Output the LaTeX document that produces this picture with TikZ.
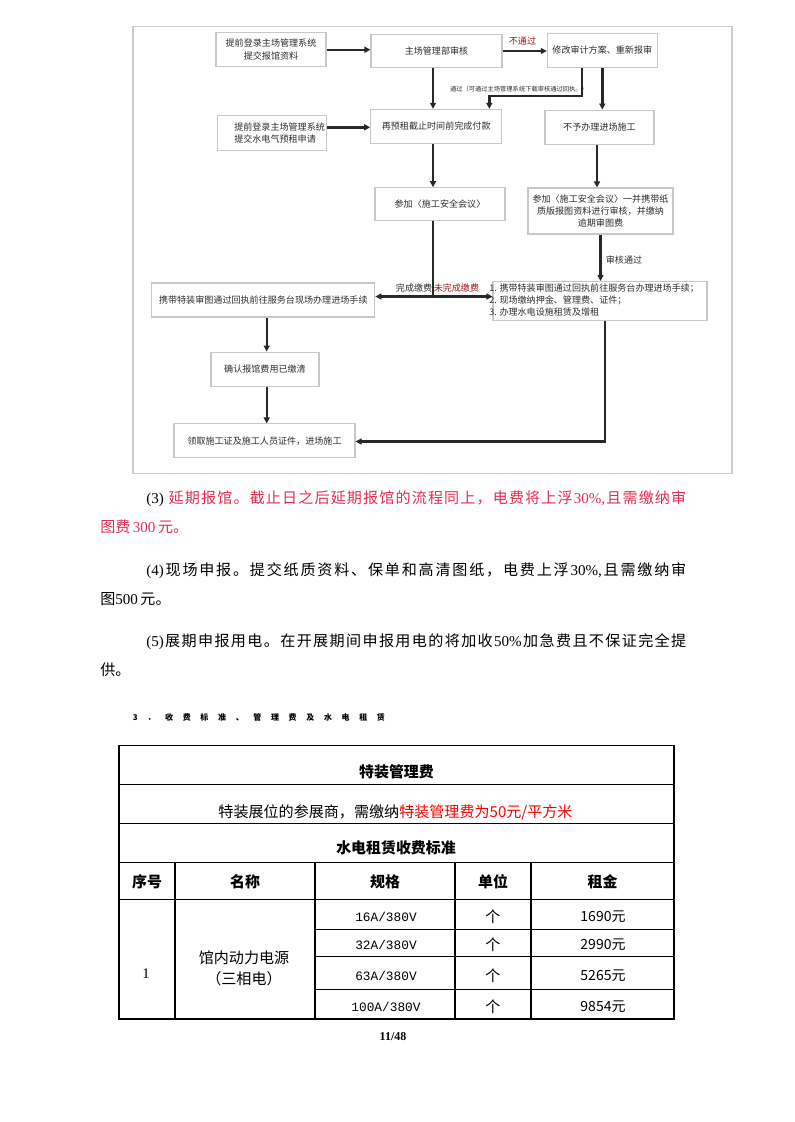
\documentclass[tikz,border=0pt]{standalone}
\usepackage{fontspec}
\setmainfont{Liberation Serif}
\newfontfamily\cjk{Noto Sans CJK SC}
\newfontfamily\lat{Liberation Serif}
\newfontfamily\mono{Liberation Mono}
\usetikzlibrary{arrows.meta}
\makeatletter
\newcommand\spreadline[1]{\@tfor\sp@t:=#1\do{{\sp@t}\hskip 0pt plus 1fil}\unskip}
\makeatother
\definecolor{boxgray}{RGB}{200,200,200}
\definecolor{framegray}{RGB}{205,205,205}
\definecolor{arrowc}{RGB}{40,40,40}
\definecolor{txtc}{RGB}{45,45,45}
\definecolor{darkred}{RGB}{160,20,30}
\definecolor{pinkred}{RGB}{230,45,80}
\begin{document}
\begin{tikzpicture}[x=0.75pt,y=-0.75pt,
  fb/.style n args={2}{draw=boxgray, line width=0.8pt, fill=white, inner sep=0pt,
    minimum width=#1*0.75pt, minimum height=#2*0.75pt, align=center, text=txtc,
    font=\cjk\fontsize{6.8}{9.3}\selectfont},
  ftxt/.style={inner sep=0pt, text=txtc, font=\cjk\fontsize{6.8}{9.3}\selectfont},
  arr/.style={draw=arrowc, line width=1.8pt, -{Triangle[length=4.5pt,width=4.5pt]}},
  ln/.style={draw=arrowc, line width=1.8pt},
  tbl/.style={draw=black, line width=0.9pt},
  body/.style={inner sep=0pt, anchor=west, font=\cjk\fontsize{11.3}{14}\selectfont},
  cell/.style={inner sep=0pt, font=\cjk\fontsize{11.3}{15.75}\selectfont},
  hcell/.style={inner sep=0pt, font=\cjk\bfseries\fontsize{11.2}{14}\selectfont},
  spec/.style={inner sep=0pt, font=\mono\fontsize{9.6}{11}\selectfont},
]
\path[use as bounding box] (0,0) rectangle (794,1122);

% ---------- flowchart frame ----------
\draw[framegray, line width=0.9pt] (133,26.7) rectangle (732,473.3);

% ---------- boxes ----------
\node[fb={110}{34}] (A) at (271,49.7) {提前登录主场管理系统\\提交报馆资料};
\node[fb={131}{33.4}] (B) at (436.5,51) {主场管理部审核};
\node[fb={110}{34.4}] (C) at (602.3,50.5) {修改审计方案、重新报审};
\node[fb={109.4}{35.3}] (D) at (272,133.3) {};
\node[ftxt, anchor=west, align=left] (Dt) at (234,133.3) {提前登录主场管理系统\\提交水电气预租申请};
\node[fb={131}{34}] (E) at (436.2,126.3) {再预租截止时间前完成付款};
\node[fb={109}{34.3}] (F) at (599.5,127.2) {不予办理进场施工};
\node[fb={130}{33.3}] (G) at (440,204.3) {参加〈施工安全会议〉};
\node[fb={145}{46}] (H) at (600.5,211) {参加〈施工安全会议〉一并携带纸\\质版报图资料进行审核，并缴纳\\逾期审图费};
\node[fb={223}{34}] (I) at (263.3,300) {携带特装审图通过回执前往服务台现场办理进场手续};
\node[fb={214}{38.5}] (J) at (600,300.8) {};
\node[ftxt, anchor=west, align=left] (Jt) at (489,300) {1. 携带特装审图通过回执前往服务台办理进场手续；\\2. 现场缴纳押金、管理费、证件；\\3. 办理水电设施租赁及增租};
\node[fb={108}{34.7}] (K) at (265,369.4) {确认报馆费用已缴清};
\node[fb={181}{33.7}] (L) at (264.5,440.8) {领取施工证及施工人员证件，进场施工};

% ---------- helper coordinates ----------
\coordinate (colx) at (433,0);
\coordinate (ce1) at (582,96);
\coordinate (ce2) at (489.3,96);
\coordinate (de) at (0,127.3);
\coordinate (fx) at (597,0);
\coordinate (jn) at (433,296.5);
\coordinate (ikx) at (266.7,0);
\coordinate (jl) at (605,441.5);

% ---------- connectors ----------
\draw[arr] (A.east) -- (A.east -| B.west);
\draw[arr] (B.east) -- (B.east -| C.west);
\node[ftxt, text=darkred] (lbl1) at (522.5,41.5) {不通过};
\draw[arr] (B.south -| colx) -- (E.north -| colx);
\draw[arr] (C.south -| ce1) -- (ce1) -- (ce2) -- (ce2 |- E.north);
\node[ftxt, font=\cjk\fontsize{4.7}{5}\selectfont] (lbl2) at (519,89) {通过（可通过主场管理系统下载审核通过回执。）};
\draw[arr] (C.south) -- (C.south |- F.north);
\draw[arr] (D.east |- de) -- (E.west |- de);
\draw[arr] (E.south -| colx) -- (G.north -| colx);
\draw[arr] (F.south -| fx) -- (H.north -| fx);
\draw[arr] (H.south) -- (H.south |- J.north);
\node[ftxt] (lbl3) at (624,260) {审核通过};
\draw[ln] (G.south -| jn) -- (jn);
\draw[arr] (jn) -- (jn -| I.east);
\draw[arr] (jn) -- (jn -| J.west);
\node[ftxt, anchor=east] (lbl4) at (432.5,288) {完成缴费};
\node[ftxt, anchor=west, text=darkred] (lbl5) at (433.5,288) {未完成缴费};
\draw[arr] (I.south -| ikx) -- (K.north -| ikx);
\draw[arr] (K.south -| ikx) -- (L.north -| ikx);
\draw[arr] (J.south -| jl) -- (jl) -- (L.east |- jl);

% ---------- body text ----------
\node[body] (p1) at (146,499) {\makebox[405pt][s]{{\lat (3)\ }\hskip 0pt plus 1fil{\color{pinkred}\spreadline{延期报馆。截止日之后延期报馆的流程同上，电费将上浮{\lat 30\%,}且需缴纳审}}}};
\node[body, text=pinkred] (p2) at (100,526.7) {图费\,{\lat 300}\,元。};
\node[body] (p3) at (146,571) {\makebox[405pt][s]{\spreadline{{\lat (4)}现场申报。提交纸质资料、保单和高清图纸，电费上浮{\lat 30\%,}且需缴纳审}}};
\node[body] (p4) at (100,599) {图{\lat 500}\,元。};
\node[body] (p5) at (146,642) {\makebox[405pt][s]{\spreadline{{\lat (5)}展期申报用电。在开展期间申报用电的将加收{\lat 50\%}加急费且不保证完全提}}};
\node[body] (p6) at (100,670) {供。};

% ---------- section heading ----------
\node[inner sep=0pt, anchor=west] (hd) at (132.7,717.3) {\makebox[189pt][s]{\cjk\bfseries\fontsize{6}{7}\selectfont\spreadline{3．收费标准、管理费及水电租赁}}};

% ---------- table ----------
\draw[tbl] (119,745.7) rectangle (674,1019);
\draw[tbl] (119,784.7) -- (674,784.7);
\draw[tbl] (119,823.7) -- (674,823.7);
\draw[tbl] (119,862.7) -- (674,862.7);
\draw[tbl] (119,899.3) -- (674,899.3);
\foreach \xx in {175,315,455,531} {\draw[tbl] (\xx,862.7) -- (\xx,1019);}
\foreach \yy in {929.3,956.7,989.3} {\draw[tbl] (315,\yy) -- (674,\yy);}

\node[hcell] (t1) at (396.5,771.7) {特装管理费};
\node[cell] (t2) at (395.5,812.7) {特装展位的参展商，需缴纳\textcolor{red}{特装管理费为50元/平方米}};
\node[hcell] (t3) at (396,848.3) {水电租赁收费标准};
\node[hcell] (h1) at (147,881.7) {序号};
\node[hcell] (h2) at (245,881.7) {名称};
\node[hcell] (h3) at (385,881.7) {规格};
\node[hcell] (h4) at (493,881.7) {单位};
\node[hcell] (h5) at (602.5,881.7) {租金};
\node[inner sep=0pt, font=\lat\fontsize{11}{13}\selectfont] (d1) at (146,973.3) {1};
\node[cell, align=center] (d2) at (244,968.8) {馆内动力电源\\（三相电）};
\node[spec] (s1) at (386,916.7) {16A/380V};
\node[spec] (s2) at (386,945) {32A/380V};
\node[spec] (s3) at (386,976) {63A/380V};
\node[spec] (s4) at (386,1006.7) {100A/380V};
\foreach \yy/\nm in {916.7/u1,945/u2,976/u3,1006.7/u4} {\node[cell] (\nm) at (493,\yy) {个};}
\node[cell, font=\cjk\fontsize{10.5}{12}\selectfont] (r1) at (603,916.7) {1690元};
\node[cell, font=\cjk\fontsize{10.5}{12}\selectfont] (r2) at (603,945) {2990元};
\node[cell, font=\cjk\fontsize{10.5}{12}\selectfont] (r3) at (603,976) {5265元};
\node[cell, font=\cjk\fontsize{10.5}{12}\selectfont] (r4) at (603,1006.7) {9854元};

% ---------- page number ----------
\node[inner sep=0pt, font=\lat\bfseries\fontsize{9}{10}\selectfont] (pg) at (393,1036.7) {11/48};
\end{tikzpicture}
\end{document}
